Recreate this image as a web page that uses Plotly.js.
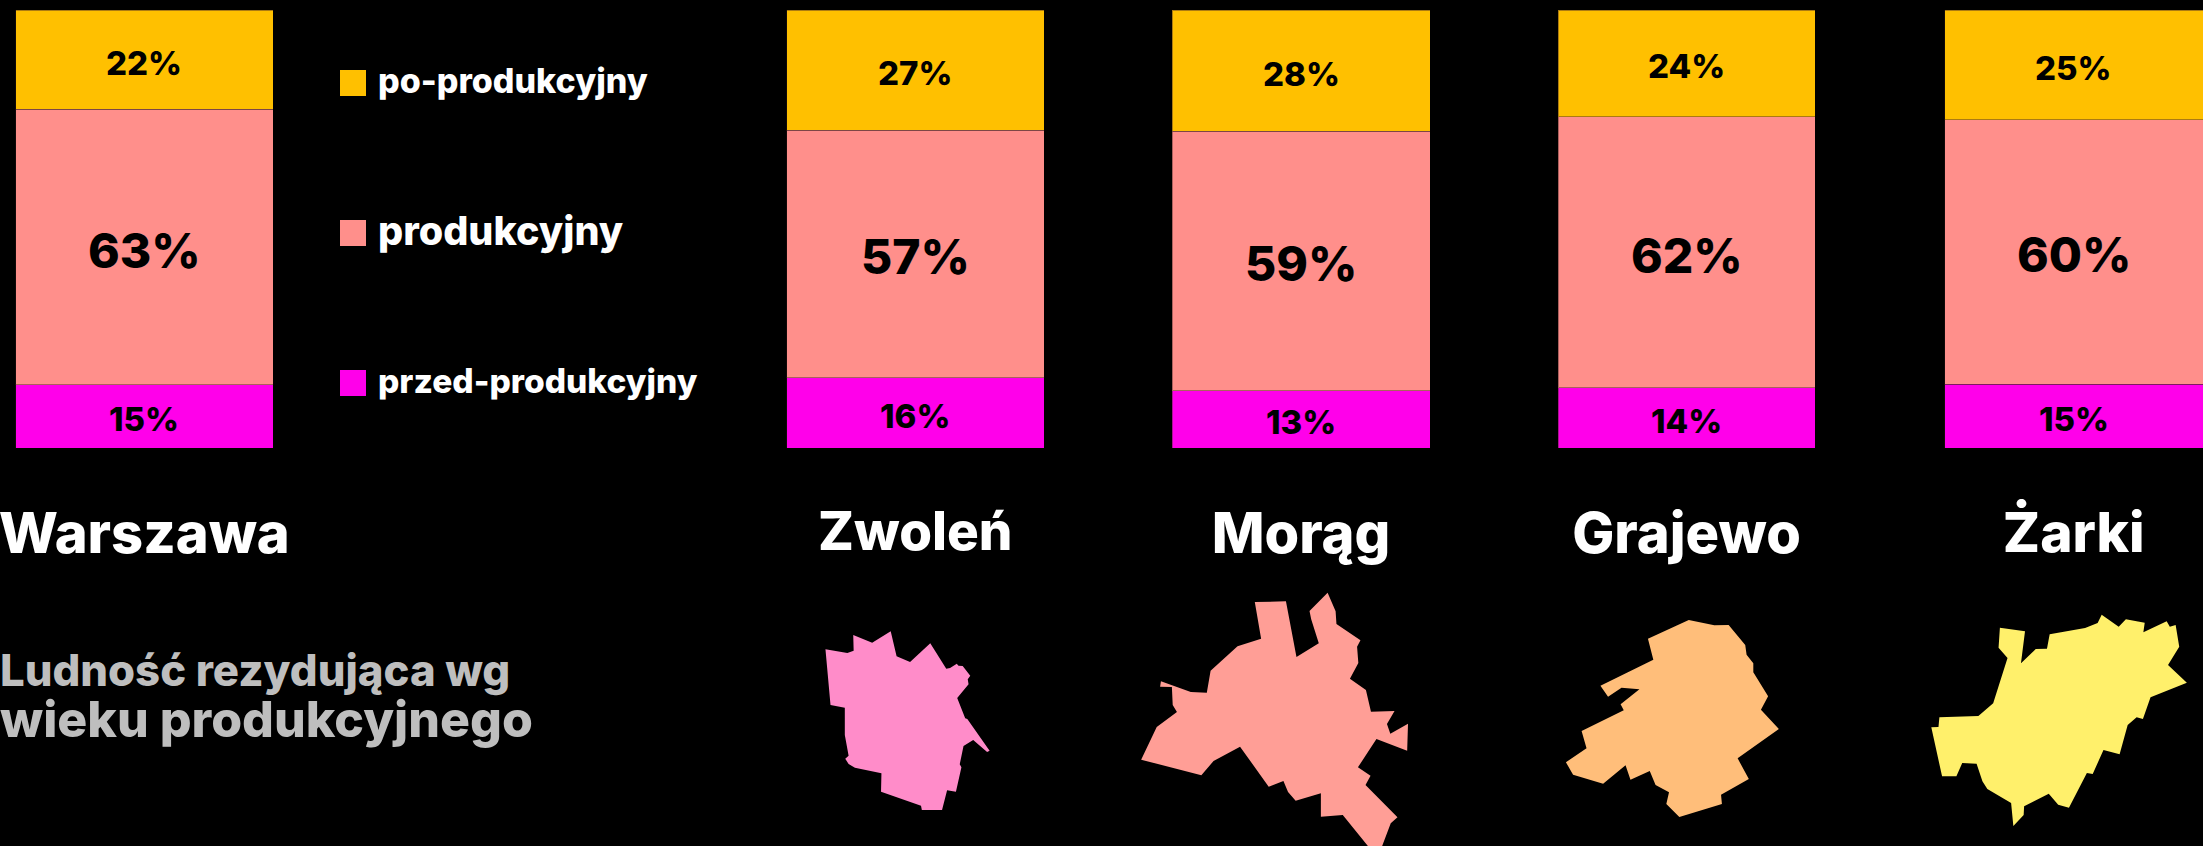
<!DOCTYPE html>
<html><head><meta charset="utf-8">
<script src="https://cdn.plot.ly/plotly-3.0.1.min.js"></script>
<style>html,body{margin:0;padding:0;background:#000}#c{width:2203px;height:846px}</style>
</head><body><div id="c"></div>
<script>
const W=2203,H=846;
const cities=["Warszawa","Zwoleń","Morąg","Grajewo","Żarki"];
const post=[22.7,27.4,27.7,24.4,25.0];
const prod=[62.9,56.6,59.2,61.9,60.4];
const pre=[14.4,16.0,13.1,13.7,14.6];
const postLabels=["22%","27%","28%","24%","25%"];
const prodLabels=["63%","57%","59%","62%","60%"];
const preLabels=["15%","16%","13%","14%","15%"];
const seriesNames=["przed-produkcyjny","produkcyjny","po-produkcyjny"];
const colors=["#FF00EA","#FF8F8B","#FFC000"];
const barSpans=[[15.5,273],[786.5,1044],[1172,1430],[1558,1815],[1944.5,2203]];
const citySizes=[56,53,56,56,55];

const zwolenX=[108,160,175,174,219,263,277,309,357,395,404,420,424,434,452,446,448,421,440,445,498,492,459,436,427,431,418,397,385,337,335,240,241,178,163,155,163,154,154,120];
const zwolenY=[208,219,212,165,188,154,229,246,190,266,264,251,257,258,287,298,313,354,415,417,512,516,480,498,553,562,635,631,690,690,677,635,580,563,552,536,527,465,383,375];
const moragX=[1128,1202,1227,1280,1262,1258,1301,1320,1322,1379,1371,1374,1354,1392,1404,1460,1442,1450,1492,1490,1417,1373,1403,1391,1467,1451,1430,1398,1337,1285,1285,1225,1207,1196,1161,1093,1030,1001,858,895,943,933,931,903,905,976,1014,1023,1087,1143];
const moragY=[66,64,231,190,118,93,38,94,132,181,200,249,296,330,395,393,432,461,431,512,477,562,587,615,712,730,800,800,705,710,640,662,636,603,620,500,543,586,539,441,396,375,321,320,304,336,338,272,199,176];
const grajewoX=[421,478,510,547,550,565,565,598,582,622,530,555,493,495,400,371,377,347,334,291,280,230,163,147,193,182,276,269,311,271,241,224,342,330];
const grajewoY=[120,136,135,195,224,250,277,349,389,447,535,597,644,672,711,672,637,615,573,599,556,611,584,547,505,453,391,373,328,323,350,317,239,176];
const zarkiX=[1342,1380,1396,1438,1435,1487,1494,1507,1515,1490,1532,1451,1434,1420,1400,1382,1346,1322,1309,1269,1245,1224,1169,1168,1145,1140,1087,1076,1063,1031,1018,986,962,978,980,1067,1100,1132,1112,1115,1171,1162,1195,1220,1226,1305,1333];
const zarkiY=[104,140,118,128,157,124,140,135,200,255,308,352,417,412,435,523,510,582,579,683,674,641,679,705,738,669,627,604,551,549,589,589,442,441,412,408,370,234,203,143,154,250,207,206,163,144,129];

const FONT="Inter, 'Open Sans', sans-serif";
const data=[],layout={
  width:W,height:H,margin:{l:0,r:0,t:0,b:0,pad:0},paper_bgcolor:"#000",plot_bgcolor:"#000",
  barmode:"stack",bargap:0,showlegend:false,shapes:[],annotations:[],
  font:{family:FONT,color:"#fff"},
  yaxis:{domain:[1-448/H,1-10/H],range:[0,100],visible:false,fixedrange:true}
};
const seriesVals=[pre,prod,post],seriesLabels=[preLabels,prodLabels,postLabels],labelSize=[33,48,33];
cities.forEach((c,i)=>{
  const suffix=i===0?"":String(i+1),ax="xaxis"+suffix;
  layout[ax]={domain:[barSpans[i][0]/W,barSpans[i][1]/W],type:"category",anchor:"y",fixedrange:true,
    showgrid:false,zeroline:false,showline:false,ticks:"outside",ticklen:37,tickcolor:"rgba(0,0,0,0)",
    tickfont:{family:FONT,size:citySizes[i],color:"#fff",weight:800}};
  let base=0;
  seriesNames.forEach((n,s)=>{
    const v=seriesVals[s][i];
    data.push({type:"bar",x:[c],y:[v],name:n,xaxis:"x"+suffix,yaxis:"y",
      marker:{color:colors[s],line:{color:"rgba(70,40,40,0.45)",width:1}},hoverinfo:"name+y"});
    layout.annotations.push({xref:"x"+suffix,yref:"y",x:c,y:base+v/2,yshift:-3,xanchor:"center",yanchor:"middle",showarrow:false,
      borderpad:0,text:seriesLabels[s][i],font:{family:FONT,size:labelSize[s],color:"#000",weight:800}});
    base+=v;
  });
});
// map layers: two overlay axis pairs, in the units the outlines were read in
layout.xaxis6={domain:[780/W,1440/W],range:[0,1568],visible:false,anchor:"y2",fixedrange:true};
layout.yaxis2={domain:[0,266/H],range:[798,0],visible:false,anchor:"x6",fixedrange:true};
layout.xaxis7={domain:[1500/W,1],range:[0,1568],visible:false,anchor:"y3",fixedrange:true};
layout.yaxis3={domain:[0,266/H],range:[798,0],visible:false,anchor:"x7",fixedrange:true};
[[zwolenX,zwolenY,"#FF8CC9","x6","y2"],[moragX,moragY,"#FF9E96","x6","y2"],
 [grajewoX,grajewoY,"#FFBE7A","x7","y3"],[zarkiX,zarkiY,"#FFF06B","x7","y3"]].forEach(p=>{
  data.push({type:"scatter",mode:"lines",x:p[0].concat(p[0][0]),y:p[1].concat(p[1][0]),fill:"toself",fillcolor:p[2],
    line:{width:0,color:p[2]},xaxis:p[3],yaxis:p[4],hoverinfo:"skip",cliponaxis:true});
});
// legend
[[2,83,34,81],[1,233,39.5,231],[0,383,33.5,381]].forEach(([s,y,sz,ty])=>{
  layout.shapes.push({type:"rect",xref:"paper",yref:"paper",x0:340/W,x1:366/W,y0:1-(y-13)/H,y1:1-(y+13)/H,fillcolor:colors[s],line:{width:0}});
  layout.annotations.push({xref:"paper",yref:"paper",x:377/W,y:1-ty/H,xanchor:"left",yanchor:"middle",showarrow:false,borderpad:0,
    text:seriesNames[s],font:{family:FONT,size:sz,color:"#fff",weight:800}});
});
// subtitle: one text block with two line sizes
layout.annotations.push({xref:"paper",yref:"paper",x:-1/W,y:1-696/H,xanchor:"left",yanchor:"middle",align:"left",showarrow:false,borderpad:0,
  text:'<span style="font-size:43.7px">Ludność rezydująca wg</span><br><span style="font-size:50px">wieku produkcyjnego</span>',
  font:{family:FONT,size:39,color:"#BEBEBE",weight:800}});
Plotly.newPlot("c",data,layout,{displayModeBar:false,staticPlot:true});
</script></body></html>
